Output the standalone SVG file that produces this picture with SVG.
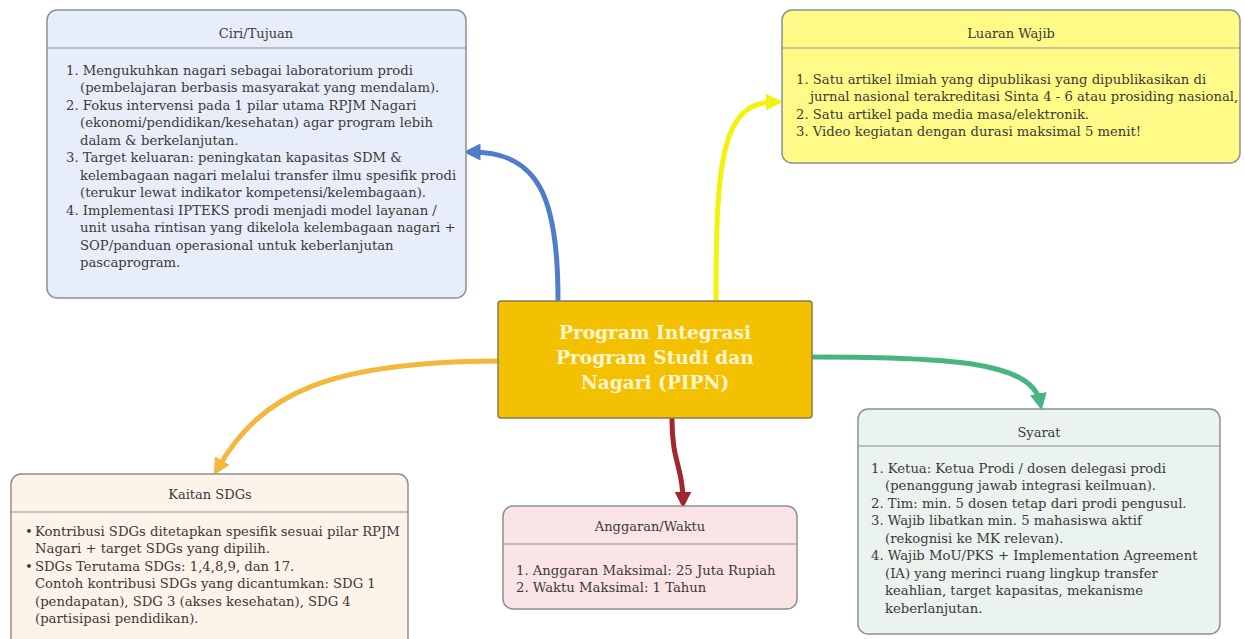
<svg xmlns="http://www.w3.org/2000/svg" width="1245" height="639" viewBox="0 0 1245 639">
<defs>
<style>
.box{stroke:#8c8f96;stroke-width:1.5}
.t{font-family:"DejaVu Serif","Liberation Serif",serif;font-size:13.2px;fill:#3a3a3a}
.h{font-family:"DejaVu Serif","Liberation Serif",serif;font-size:13px;fill:#3a3a3a;text-anchor:middle}
.c{font-family:"DejaVu Serif","Liberation Serif",serif;font-size:18.6px;font-weight:bold;fill:#fff6d0;text-anchor:middle}
.div{stroke:#8c8f96;stroke-width:1.2}
.con{fill:none;stroke-width:5;stroke-linecap:round}
</style>
<marker id="aBlue" viewBox="0 0 10 10" refX="5" refY="5" markerWidth="3.4" markerHeight="3.4" orient="auto"><path d="M0,0L10,5L0,10z" fill="#4f7dcc"/></marker>
<marker id="aYel" viewBox="0 0 10 10" refX="5" refY="5" markerWidth="3.4" markerHeight="3.4" orient="auto"><path d="M0,0L10,5L0,10z" fill="#f2f20a"/></marker>
<marker id="aOr" viewBox="0 0 10 10" refX="5" refY="5" markerWidth="3.4" markerHeight="3.4" orient="auto"><path d="M0,0L10,5L0,10z" fill="#f2b73c"/></marker>
<marker id="aGr" viewBox="0 0 10 10" refX="5" refY="5" markerWidth="3.4" markerHeight="3.4" orient="auto"><path d="M0,0L10,5L0,10z" fill="#48b581"/></marker>
<marker id="aRd" viewBox="0 0 10 10" refX="5" refY="5" markerWidth="3.4" markerHeight="3.4" orient="auto"><path d="M0,0L10,5L0,10z" fill="#a3262f"/></marker>
</defs>
<rect width="1245" height="639" fill="#ffffff"/>

<g id="connectors">
<path class="con" stroke="#4f7dcc" d="M558,299 C558,200 540,152 472,152" marker-end="url(#aBlue)"/>
<path class="con" stroke="#f2f20a" d="M716,299 C716,160 722,102 774,102" marker-end="url(#aYel)"/>
<path class="con" stroke="#f2b73c" d="M497,361 C330,362 262,392 218,468" marker-end="url(#aOr)"/>
<path class="con" stroke="#48b581" d="M814,357 C950,357 1032,362 1040,402" marker-end="url(#aGr)"/>
<path class="con" stroke="#a3262f" d="M672,420 C672,462 683,468 683,500" marker-end="url(#aRd)"/>
</g>

<g id="ciri">
<rect class="box" x="47" y="10" width="419" height="288" rx="10" fill="#e8eef9"/>
<line class="div" x1="47" y1="48" x2="466" y2="48"/>
<text class="h" x="256" y="37.5">Ciri/Tujuan</text>
<text class="t" x="66" y="74.5">1. Mengukuhkan nagari sebagai laboratorium prodi</text>
<text class="t" x="80" y="92">(pembelajaran berbasis masyarakat yang mendalam).</text>
<text class="t" x="66" y="109.5">2. Fokus intervensi pada 1 pilar utama RPJM Nagari</text>
<text class="t" x="80" y="127">(ekonomi/pendidikan/kesehatan) agar program lebih</text>
<text class="t" x="80" y="144.5">dalam &amp; berkelanjutan.</text>
<text class="t" x="66" y="162">3. Target keluaran: peningkatan kapasitas SDM &amp;</text>
<text class="t" x="80" y="179.5">kelembagaan nagari melalui transfer ilmu spesifik prodi</text>
<text class="t" x="80" y="197">(terukur lewat indikator kompetensi/kelembagaan).</text>
<text class="t" x="66" y="214.5">4. Implementasi IPTEKS prodi menjadi model layanan /</text>
<text class="t" x="80" y="232">unit usaha rintisan yang dikelola kelembagaan nagari +</text>
<text class="t" x="80" y="249.5">SOP/panduan operasional untuk keberlanjutan</text>
<text class="t" x="80" y="267">pascaprogram.</text>
</g>

<g id="luaran">
<rect class="box" x="782" y="10" width="458" height="153" rx="10" fill="#fffb86" stroke="#8d8a5a"/>
<line class="div" x1="782" y1="48" x2="1240" y2="48" stroke="#8d8a5a"/>
<text class="h" x="1011" y="37.5">Luaran Wajib</text>
<text class="t" x="796" y="83.5">1. Satu artikel ilmiah yang dipublikasi yang dipublikasikan di</text>
<text class="t" x="810" y="101">jurnal nasional terakreditasi Sinta 4 - 6 atau prosiding nasional,</text>
<text class="t" x="796" y="118.5">2. Satu artikel pada media masa/elektronik.</text>
<text class="t" x="796" y="136">3. Video kegiatan dengan durasi maksimal 5 menit!</text>
</g>

<g id="central">
<rect x="498" y="301" width="314" height="117" rx="3" fill="#f4c102" stroke="#8a7a52" stroke-width="1.5"/>
<text class="c" x="655" y="339">Program Integrasi</text>
<text class="c" x="655" y="364">Program Studi dan</text>
<text class="c" x="655" y="389">Nagari (PIPN)</text>
</g>

<g id="syarat">
<rect class="box" x="858" y="409" width="362" height="225" rx="10" fill="#eaf3ed"/>
<line class="div" x1="858" y1="446" x2="1220" y2="446"/>
<text class="h" x="1039" y="436.5">Syarat</text>
<text class="t" x="871" y="472.5">1. Ketua: Ketua Prodi / dosen delegasi prodi</text>
<text class="t" x="885" y="490">(penanggung jawab integrasi keilmuan).</text>
<text class="t" x="871" y="507.5">2. Tim: min. 5 dosen tetap dari prodi pengusul.</text>
<text class="t" x="871" y="525">3. Wajib libatkan min. 5 mahasiswa aktif</text>
<text class="t" x="885" y="542.5">(rekognisi ke MK relevan).</text>
<text class="t" x="871" y="560">4. Wajib MoU/PKS + Implementation Agreement</text>
<text class="t" x="885" y="577.5">(IA) yang merinci ruang lingkup transfer</text>
<text class="t" x="885" y="595">keahlian, target kapasitas, mekanisme</text>
<text class="t" x="885" y="612.5">keberlanjutan.</text>
</g>

<g id="anggaran">
<rect class="box" x="503" y="506" width="294" height="103" rx="10" fill="#fbe4e6"/>
<line class="div" x1="503" y1="544" x2="797" y2="544"/>
<text class="h" x="650" y="530.5">Anggaran/Waktu</text>
<text class="t" x="516" y="574.5">1. Anggaran Maksimal: 25 Juta Rupiah</text>
<text class="t" x="516" y="592">2. Waktu Maksimal: 1 Tahun</text>
</g>

<g id="kaitan">
<rect class="box" x="11" y="474" width="397" height="175" rx="10" fill="#fdf3e8"/>
<line class="div" x1="11" y1="512" x2="408" y2="512"/>
<text class="h" x="210" y="498.5">Kaitan SDGs</text>
<text class="t" x="25" y="535.5">•</text>
<text class="t" x="35" y="535.5">Kontribusi SDGs ditetapkan spesifik sesuai pilar RPJM</text>
<text class="t" x="35" y="553">Nagari + target SDGs yang dipilih.</text>
<text class="t" x="25" y="570.5">•</text>
<text class="t" x="35" y="570.5">SDGs Terutama SDGs: 1,4,8,9, dan 17.</text>
<text class="t" x="35" y="588">Contoh kontribusi SDGs yang dicantumkan: SDG 1</text>
<text class="t" x="35" y="605.5">(pendapatan), SDG 3 (akses kesehatan), SDG 4</text>
<text class="t" x="35" y="623">(partisipasi pendidikan).</text>
</g>
</svg>
